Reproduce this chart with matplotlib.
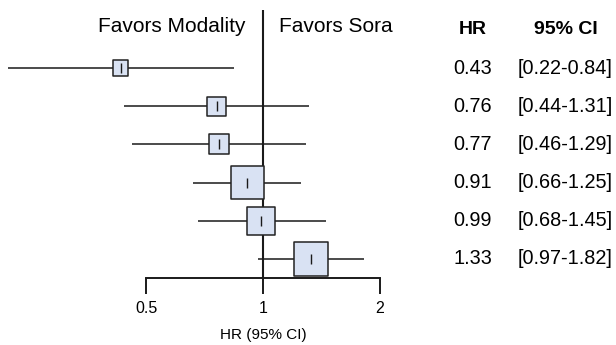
import numpy as np
import matplotlib
matplotlib.use("Agg")
import matplotlib.pyplot as plt
from matplotlib.transforms import blended_transform_factory

plt.rcParams['font.family'] = ['Liberation Sans', 'DejaVu Sans']

# hazard ratios with 95% confidence intervals, top to bottom
hr = [0.43, 0.76, 0.77, 0.91, 0.99, 1.33]
ci_lo = [0.22, 0.44, 0.46, 0.66, 0.68, 0.97]
ci_hi = [0.84, 1.31, 1.29, 1.25, 1.45, 1.82]
tick_vals = [0.5, 1, 2]
tick_labels = ['0.5', '1', '2']
header_left = 'Favors Modality'
header_right = 'Favors Sora'
col_titles = ['HR', '95% CI']
x_title = 'HR (95% CI)'

W, H = 616, 345
fig = plt.figure(figsize=(W / 100, H / 100), dpi=100)

# axes from x=0..420 px, y=10..278 px
ax = fig.add_axes([0, 67 / H, 420 / W, 268 / H])
ax.set_xscale('log', base=2)
ax.set_xlim(0.2104, 2.535)
ax.set_ylim(6.5, -0.52)

rows = np.arange(1, len(hr) + 1)
hr = np.array(hr)
ci_lo = np.array(ci_lo)
ci_hi = np.array(ci_hi)

# box size follows inverse standard error (width of CI on log scale)
box_side = 15.77 / np.log(ci_hi / ci_lo) - 0.9

ax.axvline(1, color='#1a1a1a', lw=1.5, zorder=1)
ax.hlines(rows, ci_lo, ci_hi, color='#1a1a1a', lw=1.1, zorder=2)
ax.scatter(hr, rows, s=box_side ** 2, marker='s', facecolor='#d9e2f3',
           edgecolor='#222222', linewidths=1.1, zorder=3)
ax.scatter(hr, rows, s=6.5 ** 2, marker='|', color='#1a1a1a',
           linewidths=1.0, zorder=4)

for side in ['top', 'left', 'right']:
    ax.spines[side].set_visible(False)
ax.spines['bottom'].set_bounds(tick_vals[0], tick_vals[-1])
ax.spines['bottom'].set_linewidth(1.4)
ax.spines['bottom'].set_color('#1a1a1a')
ax.set_xticks(tick_vals)
ax.set_xticklabels(tick_labels)
ax.xaxis.set_minor_locator(matplotlib.ticker.NullLocator())
ax.tick_params(axis='x', direction='out', length=11.5, width=1.4,
               color='#1a1a1a', pad=5, labelsize=11.5)
ax.set_yticks([])

# headers above the plot
ax.text(0.899, -0.1, header_left, ha='right', va='center', fontsize=15)
ax.text(1.099, -0.1, header_right, ha='left', va='center', fontsize=15)

fig.text(263 / W, 1 - 335 / H, x_title, ha='center', va='center', fontsize=11)

# table on the right
trans = blended_transform_factory(fig.transFigure, ax.transData)
hr_x = 472.5 / W
ci_x = 565.5 / W
ax.text(hr_x, 0, col_titles[0], transform=trans, ha='center', va='center',
        fontsize=14, fontweight='bold', clip_on=False)
ax.text(ci_x, 0, col_titles[1], transform=trans, ha='center', va='center',
        fontsize=14, fontweight='bold', clip_on=False)
for r, v, lo, hi in zip(rows, hr, ci_lo, ci_hi):
    ax.text(hr_x, r, f'{v:.2f}', transform=trans, ha='center', va='center',
            fontsize=14.3, clip_on=False)
    ax.text(ci_x, r, f'[{lo:.2f}-{hi:.2f}]', transform=trans, ha='center',
            va='center', fontsize=14.3, clip_on=False)

fig.savefig('out.png', dpi=100)
